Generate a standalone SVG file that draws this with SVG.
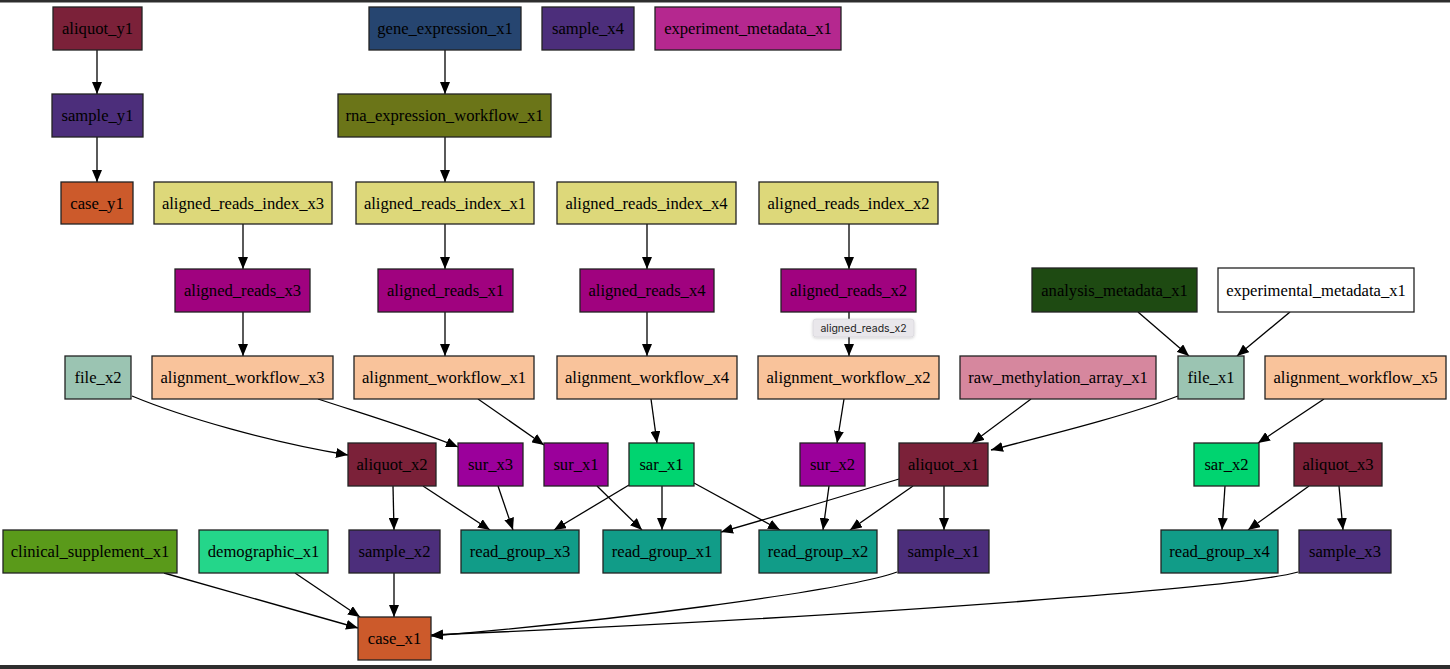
<svg xmlns="http://www.w3.org/2000/svg" width="1450" height="669" viewBox="0 0 1450 669">
<style>
.n rect{stroke:#222;stroke-width:1.3}
.n text{font-family:"Liberation Serif","Times New Roman",serif;font-size:16.6px;fill:#000;text-anchor:middle}
.e path{fill:none;stroke:#000;stroke-width:1.3}
.aliquot{fill:#7b2139}.sample{fill:#4c2e7b}.case{fill:#cc5a2b}.gene{fill:#264570}
.expmeta{fill:#b5288f}.rna{fill:#6b7518}.ari{fill:#ddd87a}.ar{fill:#a0027f}
.aw{fill:#f9c39b}.file{fill:#9bc4b2}.raw{fill:#d6879e}.anm{fill:#1e4a12}
.white{fill:#ffffff}.sur{fill:#9b009b}.sar{fill:#00d470}.rg{fill:#119c88}
.clin{fill:#5a9a1a}.demo{fill:#24d68a}
</style>
<defs>
<marker id="ah" markerUnits="userSpaceOnUse" viewBox="0 0 12 10" refX="12" refY="5" markerWidth="12" markerHeight="10" orient="auto">
<path d="M0,0 L12,5 L0,10 z" fill="#000"/>
</marker>
<filter id="sh" x="-20%" y="-40%" width="140%" height="200%">
<feDropShadow dx="0" dy="1" stdDeviation="1.5" flood-color="#000" flood-opacity="0.2"/>
</filter>
</defs>
<rect x="0" y="0" width="1450" height="669" fill="#fff"/>
<rect x="0" y="0" width="1450" height="2.5" fill="#2e2e2e"/>
<rect x="0" y="665" width="1450" height="4" fill="#2e2e2e"/>

<g id="connectors" class="e" marker-end="url(#ah)">
<path d="M97,50 L97,94"/>
<path d="M97,137 L97,182"/>
<path d="M445,50 L445,94"/>
<path d="M445,137 L445,182"/>
<path d="M243,224 L243,269"/>
<path d="M445,224 L445,269"/>
<path d="M647,224 L647,269"/>
<path d="M849,224 L849,269"/>
<path d="M243,311 L243,356"/>
<path d="M445,311 L445,356"/>
<path d="M647,311 L647,356"/>
<path d="M849,311 L849,356"/>
<path d="M1138,312 L1189,356"/>
<path d="M1290,312 L1237,356"/>
<path d="M132,396 C185,418 270,442 348,455"/>
<path d="M318,399 C370,416 420,431 458,447"/>
<path d="M478,399 L544,445"/>
<path d="M651,399 L657,443"/>
<path d="M844,399 L837,443"/>
<path d="M1031,399 L972,443"/>
<path d="M1178,396 C1120,418 1040,437 991,450"/>
<path d="M1324,399 L1258,443"/>
<path d="M393,486 L394,530"/>
<path d="M423,486 L490,530"/>
<path d="M498,486 L513,530"/>
<path d="M629,485 L554,530"/>
<path d="M597,486 L642,530"/>
<path d="M662,486 L662,530"/>
<path d="M899,479 C830,500 770,518 721,532"/>
<path d="M694,483 L780,530"/>
<path d="M829,486 L823,530"/>
<path d="M913,486 L850,530"/>
<path d="M944,486 L944,530"/>
<path d="M1225,486 L1222,530"/>
<path d="M1309,486 L1248,530"/>
<path d="M1339,486 L1343,530"/>
<path d="M164,573 L358,628"/>
<path d="M295,573 L360,617"/>
<path d="M394,573 L394,617"/>
<path d="M897,572 C840,592 600,622 431,636"/>
<path d="M1298,572 C1250,586 900,615 431,635"/>
</g>

<g id="aliquot_y1" class="n"><rect class="aliquot" x="53" y="7" width="89" height="43"/><text x="97.5" y="34">aliquot_y1</text></g>
<g id="gene_expression_x1" class="n"><rect class="gene" x="369" y="7" width="152" height="43"/><text x="445" y="34">gene_expression_x1</text></g>
<g id="sample_x4" class="n"><rect class="sample" x="542" y="7" width="92" height="43"/><text x="588" y="34">sample_x4</text></g>
<g id="experiment_metadata_x1" class="n"><rect class="expmeta" x="655" y="7" width="186" height="43"/><text x="748" y="34">experiment_metadata_x1</text></g>

<g id="sample_y1" class="n"><rect class="sample" x="52" y="94" width="91" height="43"/><text x="97.5" y="121">sample_y1</text></g>
<g id="rna_expression_workflow_x1" class="n"><rect class="rna" x="338" y="94" width="213" height="43"/><text x="444.5" y="121">rna_expression_workflow_x1</text></g>

<g id="case_y1" class="n"><rect class="case" x="61" y="182" width="72" height="42"/><text x="97" y="208.5">case_y1</text></g>
<g id="aligned_reads_index_x3" class="n"><rect class="ari" x="154" y="182" width="178" height="42"/><text x="243" y="208.5">aligned_reads_index_x3</text></g>
<g id="aligned_reads_index_x1" class="n"><rect class="ari" x="356" y="182" width="178" height="42"/><text x="445" y="208.5">aligned_reads_index_x1</text></g>
<g id="aligned_reads_index_x4" class="n"><rect class="ari" x="557" y="182" width="179" height="42"/><text x="646.5" y="208.5">aligned_reads_index_x4</text></g>
<g id="aligned_reads_index_x2" class="n"><rect class="ari" x="759" y="182" width="179" height="42"/><text x="848.5" y="208.5">aligned_reads_index_x2</text></g>

<g id="aligned_reads_x3" class="n"><rect class="ar" x="175" y="269" width="135" height="43"/><text x="242.5" y="296">aligned_reads_x3</text></g>
<g id="aligned_reads_x1" class="n"><rect class="ar" x="378" y="269" width="135" height="43"/><text x="445.5" y="296">aligned_reads_x1</text></g>
<g id="aligned_reads_x4" class="n"><rect class="ar" x="580" y="269" width="134" height="43"/><text x="647" y="296">aligned_reads_x4</text></g>
<g id="aligned_reads_x2" class="n"><rect class="ar" x="781" y="269" width="135" height="43"/><text x="848.5" y="296">aligned_reads_x2</text></g>
<g id="analysis_metadata_x1" class="n"><rect class="anm" x="1032" y="268" width="165" height="44"/><text x="1114.5" y="295.5">analysis_metadata_x1</text></g>
<g id="experimental_metadata_x1" class="n"><rect class="white" x="1218" y="268" width="196" height="44"/><text x="1316" y="295.5">experimental_metadata_x1</text></g>

<g id="file_x2" class="n"><rect class="file" x="65" y="356" width="66" height="43"/><text x="98" y="383">file_x2</text></g>
<g id="alignment_workflow_x3" class="n"><rect class="aw" x="152" y="356" width="181" height="43"/><text x="242.5" y="383">alignment_workflow_x3</text></g>
<g id="alignment_workflow_x1" class="n"><rect class="aw" x="354" y="356" width="180" height="43"/><text x="444" y="383">alignment_workflow_x1</text></g>
<g id="alignment_workflow_x4" class="n"><rect class="aw" x="557" y="356" width="180" height="43"/><text x="647" y="383">alignment_workflow_x4</text></g>
<g id="alignment_workflow_x2" class="n"><rect class="aw" x="758" y="356" width="181" height="43"/><text x="848.5" y="383">alignment_workflow_x2</text></g>
<g id="raw_methylation_array_x1" class="n"><rect class="raw" x="960" y="356" width="196" height="43"/><text x="1058" y="383">raw_methylation_array_x1</text></g>
<g id="file_x1" class="n"><rect class="file" x="1178" y="356" width="66" height="43"/><text x="1211" y="383">file_x1</text></g>
<g id="alignment_workflow_x5" class="n"><rect class="aw" x="1265" y="356" width="181" height="43"/><text x="1355.5" y="383">alignment_workflow_x5</text></g>

<g id="aliquot_x2" class="n"><rect class="aliquot" x="348" y="443" width="88" height="43"/><text x="392" y="470">aliquot_x2</text></g>
<g id="sur_x3" class="n"><rect class="sur" x="458" y="443" width="65" height="43"/><text x="490.5" y="470">sur_x3</text></g>
<g id="sur_x1" class="n"><rect class="sur" x="544" y="443" width="64" height="43"/><text x="576" y="470">sur_x1</text></g>
<g id="sar_x1" class="n"><rect class="sar" x="629" y="443" width="65" height="43"/><text x="661.5" y="470">sar_x1</text></g>
<g id="sur_x2" class="n"><rect class="sur" x="800" y="443" width="65" height="43"/><text x="832.5" y="470">sur_x2</text></g>
<g id="aliquot_x1" class="n"><rect class="aliquot" x="899" y="443" width="89" height="43"/><text x="943.5" y="470">aliquot_x1</text></g>
<g id="sar_x2" class="n"><rect class="sar" x="1194" y="443" width="65" height="43"/><text x="1226.5" y="470">sar_x2</text></g>
<g id="aliquot_x3" class="n"><rect class="aliquot" x="1294" y="443" width="88" height="43"/><text x="1338" y="470">aliquot_x3</text></g>

<g id="clinical_supplement_x1" class="n"><rect class="clin" x="3" y="530" width="174" height="43"/><text x="90" y="557">clinical_supplement_x1</text></g>
<g id="demographic_x1" class="n"><rect class="demo" x="199" y="530" width="129" height="43"/><text x="263.5" y="557">demographic_x1</text></g>
<g id="sample_x2" class="n"><rect class="sample" x="349" y="530" width="91" height="43"/><text x="394.5" y="557">sample_x2</text></g>
<g id="read_group_x3" class="n"><rect class="rg" x="461" y="530" width="118" height="43"/><text x="520" y="557">read_group_x3</text></g>
<g id="read_group_x1" class="n"><rect class="rg" x="603" y="530" width="118" height="43"/><text x="662" y="557">read_group_x1</text></g>
<g id="read_group_x2" class="n"><rect class="rg" x="759" y="530" width="118" height="43"/><text x="818" y="557">read_group_x2</text></g>
<g id="sample_x1" class="n"><rect class="sample" x="898" y="530" width="91" height="43"/><text x="943.5" y="557">sample_x1</text></g>
<g id="read_group_x4" class="n"><rect class="rg" x="1161" y="530" width="117" height="43"/><text x="1219.5" y="557">read_group_x4</text></g>
<g id="sample_x3" class="n"><rect class="sample" x="1299" y="530" width="92" height="43"/><text x="1345" y="557">sample_x3</text></g>

<g id="case_x1" class="n"><rect class="case" x="358" y="617" width="73" height="43"/><text x="394.5" y="644">case_x1</text></g>

<g id="tooltip">
<rect x="813" y="319" width="101" height="18" rx="3" fill="#e9e7eb" stroke="#d4d2d6" stroke-width="0.6" filter="url(#sh)"/>
<text x="863.5" y="331.5" font-family="Inter,'Liberation Sans',sans-serif" font-size="10.5" fill="#222" text-anchor="middle">aligned_reads_x2</text>
</g>
</svg>
